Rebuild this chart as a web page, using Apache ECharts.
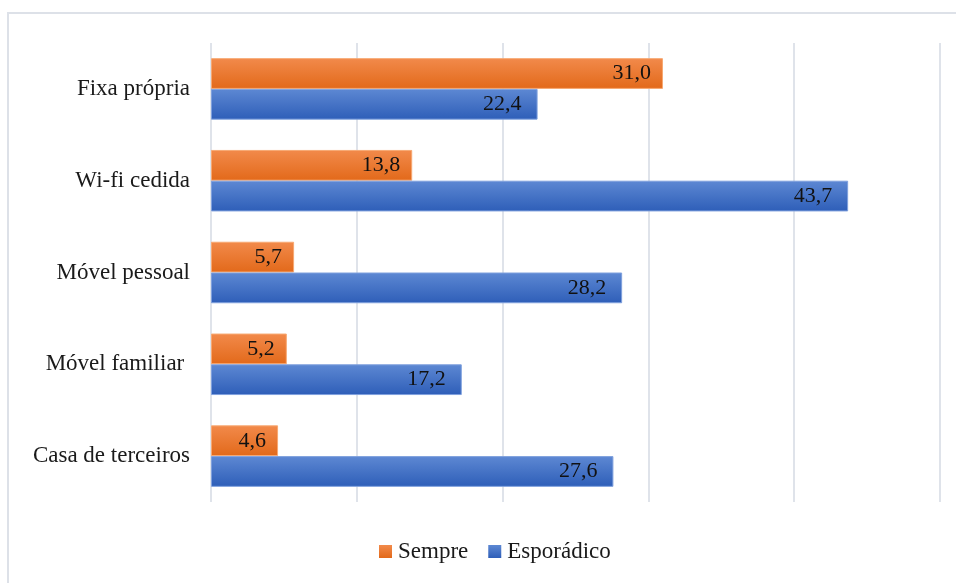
<!DOCTYPE html>
<html>
<head>
<meta charset="utf-8">
<script src="https://cdn.jsdelivr.net/npm/echarts@6/dist/echarts.min.js"></script>
<style>html,body{margin:0;padding:0;background:#fff}#c{width:956px;height:583px}</style>
</head>
<body>
<div id="c"></div>
<script>
var categories = ['Fixa própria', 'Wi-fi cedida', 'Móvel pessoal', 'Móvel familiar ', 'Casa de terceiros'];
var seriesNames = ['Sempre', 'Esporádico'];
var sempre = [31.0, 13.8, 5.7, 5.2, 4.6];
var esporadico = [22.4, 43.7, 28.2, 17.2, 27.6];

var FONT = 'Liberation Serif, Times New Roman, serif';
function grad(a, b) {
  return new echarts.graphic.LinearGradient(0, 0, 0, 1, [{offset: 0, color: a}, {offset: 1, color: b}]);
}
function fmt(p) { return p.value.toFixed(1).replace('.', ','); }

var chart = echarts.init(document.getElementById('c'), null, {renderer: 'canvas'});
chart.setOption({
  animation: false,
  backgroundColor: '#fff',
  graphic: [{
    type: 'rect', shape: {x: 8, y: 13, width: 1200, height: 1000},
    style: {fill: 'none', stroke: '#dde1e8', lineWidth: 2}, silent: true, z: -1
  }],
  grid: {left: 211, right: 16, top: 43, bottom: 81, containLabel: false},
  legend: {
    bottom: 15, left: 374, itemWidth: 13, itemHeight: 13, itemGap: 20,
    icon: 'rect',
    itemStyle: {borderWidth: 0},
    textStyle: {fontFamily: FONT, fontSize: 23, color: '#1a1a1a', padding: [0, 0, 0, 1]},
    data: seriesNames
  },
  xAxis: {
    type: 'value', min: 0, max: 50, interval: 10,
    axisLabel: {show: false}, axisLine: {show: false}, axisTick: {show: false},
    splitLine: {show: true, lineStyle: {color: '#dfe3ea', width: 2}}
  },
  yAxis: {
    type: 'category', inverse: true, data: categories,
    axisLine: {show: false}, axisTick: {show: false},
    axisLabel: {margin: 21, fontFamily: FONT, fontSize: 23, color: '#1a1a1a'}
  },
  series: [{
    name: seriesNames[0], type: 'bar', data: sempre,
    barGap: '0%', barCategoryGap: '33%',
    itemStyle: {color: grad('#F28A4B', '#E2691A'), borderColor: '#F7A872', borderWidth: 1},
    label: {show: true, position: 'insideRight', distance: 12, formatter: fmt,
      fontFamily: FONT, fontSize: 22, color: '#111'}
  }, {
    name: seriesNames[1], type: 'bar', data: esporadico,
    itemStyle: {color: grad('#5D88D3', '#2E5EB8'), borderColor: '#7FA0DD', borderWidth: 1},
    label: {show: true, position: 'insideRight', distance: 16, formatter: fmt,
      fontFamily: FONT, fontSize: 22, color: '#111'}
  }]
});
</script>
</body>
</html>
